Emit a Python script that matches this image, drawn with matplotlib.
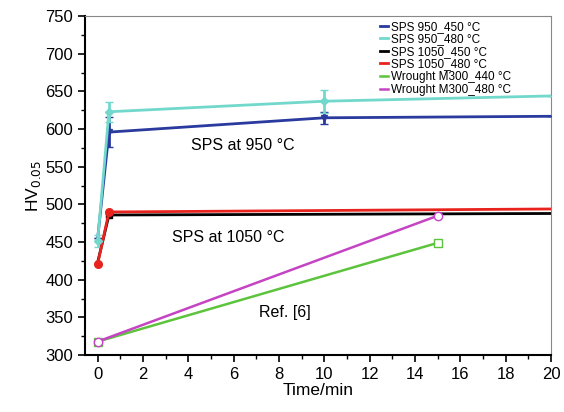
import matplotlib
matplotlib.use("Agg")
import matplotlib.pyplot as plt
from matplotlib.ticker import MultipleLocator

plt.rcParams['font.family'] = ['Liberation Sans', 'DejaVu Sans']

# Data
t_950_450 = [0, 0.5, 10, 20]
hv_950_450 = [455, 596, 615, 617]
err_950_450 = [0, 20, 8, 0]

t_950_480 = [0, 0.5, 10, 20]
hv_950_480 = [452, 623, 637, 644]
err_950_480 = [8, 13, 15, 0]

t_1050_450 = [0, 0.5, 20]
hv_1050_450 = [423, 486, 488]

t_1050_480 = [0, 0.5, 20]
hv_1050_480 = [421, 490, 494]

t_w440 = [0, 15]
hv_w440 = [318, 449]

t_w480 = [0, 15]
hv_w480 = [318, 485]

labels = ["SPS 950_450 °C", "SPS 950_480 °C", "SPS 1050_450 °C",
          "SPS 1050_480 °C", "Wrought M300_440 °C", "Wrought M300_480 °C"]

fig = plt.figure(figsize=(5.64, 4.12), dpi=100)
ax = fig.add_axes([0.151, 0.138, 0.826, 0.823])

c_blue = '#2a3a9e'
c_cyan = '#72d8cc'
c_red = '#e8231e'
c_green = '#5cc43c'
c_mag = '#c444c4'

eb1 = ax.errorbar(t_950_450, hv_950_450, yerr=err_950_450, color=c_blue, marker='v',
                  ms=4.5, lw=2, capsize=3, markevery=[1, 2], zorder=3)
eb2 = ax.errorbar(t_950_480, hv_950_480, yerr=err_950_480, color=c_cyan, marker='D',
                  ms=4.5, lw=2, capsize=3, markevery=[0, 1, 2], zorder=4)
l3, = ax.plot(t_1050_450, hv_1050_450, color='black', marker='s', ms=4.5, lw=2,
              markevery=[1], zorder=3)
l4, = ax.plot(t_1050_480, hv_1050_480, color=c_red, marker='o', ms=5.5, lw=2,
              markevery=[0, 1], zorder=4)
l5, = ax.plot(t_w440, hv_w440, color=c_green, marker='s', ms=5.5, lw=1.8, mfc='white',
              zorder=3)
l6, = ax.plot(t_w480, hv_w480, color=c_mag, marker='o', ms=6, lw=1.8, mfc='white',
              zorder=3)
handles = [eb1.lines[0], eb2.lines[0], l3, l4, l5, l6]

ax.set_xlim(-0.55, 20)
ax.set_ylim(300, 750)
ax.xaxis.set_major_locator(MultipleLocator(2))
ax.xaxis.set_minor_locator(MultipleLocator(1))
ax.yaxis.set_major_locator(MultipleLocator(50))
ax.yaxis.set_minor_locator(MultipleLocator(25))
ax.tick_params(axis='both', which='major', labelsize=12, length=5, width=1.2)
ax.tick_params(axis='both', which='minor', length=3, width=1)
for s in ['left', 'bottom']:
    ax.spines[s].set_linewidth(1.5)
for s in ['top', 'right']:
    ax.spines[s].set_color('#888888')

ax.set_xlabel('Time/min', fontsize=12.5, labelpad=1)
ax.set_ylabel('HV$_{0.05}$', fontsize=12.5, labelpad=2)

ax.text(4.1, 578, 'SPS at 950 °C', fontsize=11.5, va='center', ha='left')
ax.text(3.3, 456, 'SPS at 1050 °C', fontsize=11.5, va='center', ha='left')
ax.text(7.1, 356, 'Ref. [6]', fontsize=11.5, va='center', ha='left')

leg = ax.legend(handles, labels, loc='upper left', fontsize=8.5, frameon=False,
                handlelength=0.7, handletextpad=0.3, labelspacing=0.05,
                borderaxespad=0.0, markerscale=0.01, bbox_to_anchor=(0.622, 1.0))

fig.savefig('out.png', dpi=100)
